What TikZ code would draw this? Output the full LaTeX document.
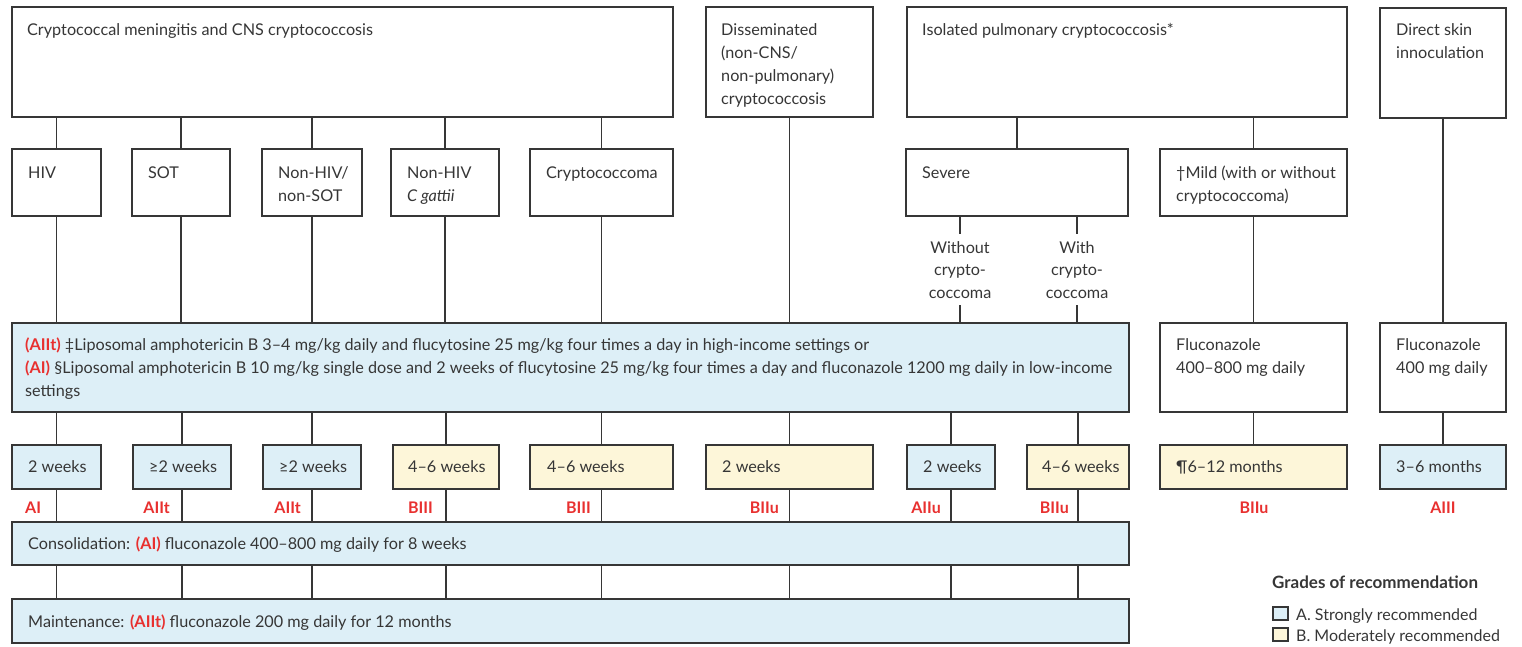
\documentclass[tikz,border=0pt]{standalone}
\usepackage{fontspec}
\setmainfont{Lato}
\usetikzlibrary{calc}
\definecolor{ln}{HTML}{363636}
\definecolor{bl}{HTML}{DDEFF7}
\definecolor{yl}{HTML}{FDF6D9}
\definecolor{rd}{HTML}{E8302F}
\tikzset{
  box/.style={draw=ln, line width=1.3pt, inner sep=0pt, outer sep=0pt},
  lbl/.style={text=ln, font=\fontsize{16.2}{23}\selectfont, inner sep=0pt, anchor=base west, align=left},
  grade/.style={text=rd, font=\fontsize{16}{18}\selectfont\bfseries, inner sep=0pt, anchor=base east},
  conn/.style={draw=ln, line width=1.3pt},
  sub/.style={text=ln, font=\fontsize{16.2}{22.5}\selectfont, inner xsep=0pt, inner ysep=7pt, anchor=base, align=center},
}
\newcommand\bx[6]{%
  \node[box,fill=#6,minimum width={(#4-(#2))*1pt},minimum height={(#5-(#3))*1pt}] (#1) at ({(#2+#4)/2},{(#3+#5)/2}) {};}
\newcommand\red[1]{{\color{rd}\bfseries #1}}
\begin{document}
\begin{tikzpicture}[x=1pt,y=-1pt]
\useasboundingbox (0,0) rectangle (1522,646);
% top row
\bx{cns}{12}{7}{673}{117}{white}
\bx{dis}{706}{7}{873}{117}{white}
\bx{iso}{907}{7}{1347}{117}{white}
\bx{dsk}{1380}{8}{1506}{118}{white}
% multi-line labels are anchored at the baseline of their last line
\node[lbl] (cns-t) at (27,35) {Cryptococcal meningitis and CNS cryptococcosis};
\node[lbl] (dis-t) at (721,104) {Disseminated\\(non-CNS/\\non-pulmonary)\\cryptococcosis};
\node[lbl] (iso-t) at (922,35) {Isolated pulmonary cryptococcosis*};
\node[lbl] (dsk-t) at (1396,58) {Direct skin\\innoculation};
% second row
\bx{hiv}{12}{149}{101}{216}{white}
\bx{sot}{132}{149}{230}{216}{white}
\bx{nhs}{262}{149}{362}{216}{white}
\bx{ncg}{391}{149}{499}{216}{white}
\bx{cma}{530}{149}{673}{216}{white}
\bx{sev}{906}{149}{1128}{216}{white}
\bx{mld}{1160}{149}{1347}{216}{white}
\node[lbl] (hiv-t) at (28,178) {HIV};
\node[lbl] (sot-t) at (148,178) {SOT};
\node[lbl] (nhs-t) at (278,201) {Non-HIV/\\non-SOT};
\node[lbl] (ncg-t) at (407,201) {Non-HIV\\\textit{C gattii}};
\node[lbl] (cma-t) at (546,178) {Cryptococcoma};
\node[lbl] (sev-t) at (922,178) {Severe};
\node[lbl] (mld-t) at (1176,201) {†Mild (with or without\\cryptococcoma)};
% severe split
\node[sub] (wo) at (960,298) {Without\\crypto-\\coccoma};
\node[sub] (wi) at (1077,298) {With\\crypto-\\coccoma};
% induction row
\bx{ind}{12}{323}{1129}{412}{bl}
\bx{fl1}{1160}{323}{1347}{412}{white}
\bx{fl2}{1380}{323}{1506}{412}{white}
\node[lbl] (ind-t) at (25,396) {\red{(AIIt)} ‡Liposomal amphotericin B 3–4 mg/kg daily and flucytosine 25 mg/kg four times a day in high-income settings or\\\red{(AI)} §Liposomal amphotericin B 10 mg/kg single dose and 2 weeks of flucytosine 25 mg/kg four times a day and fluconazole 1200 mg daily in low-income\\settings};
\node[lbl] (fl1-t) at (1176,373) {Fluconazole\\400–800 mg daily};
\node[lbl] (fl2-t) at (1396,373) {Fluconazole\\400 mg daily};
% duration row
\bx{d1}{12}{445}{101}{489}{bl}
\bx{d2}{133}{445}{231}{489}{bl}
\bx{d3}{263}{445}{361}{489}{bl}
\bx{d4}{393}{445}{499}{489}{yl}
\bx{d5}{530}{445}{673}{489}{yl}
\bx{d6}{706}{445}{873}{489}{yl}
\bx{d7}{907}{445}{995}{489}{bl}
\bx{d8}{1027}{445}{1129}{489}{yl}
\bx{d9}{1160}{445}{1347}{489}{yl}
\bx{d10}{1380}{445}{1506}{489}{bl}
\node[lbl] (d1-t) at (28,472) {2 weeks};
\node[lbl] (d2-t) at (149,472) {≥2 weeks};
\node[lbl] (d3-t) at (279,472) {≥2 weeks};
\node[lbl] (d4-t) at (408,472) {4–6 weeks};
\node[lbl] (d5-t) at (547,472) {4–6 weeks};
\node[lbl] (d6-t) at (722,472) {2 weeks};
\node[lbl] (d7-t) at (923,472) {2 weeks};
\node[lbl] (d8-t) at (1042,472) {4–6 weeks};
\node[lbl] (d9-t) at (1176,472) {¶6–12 months};
\node[lbl] (d10-t) at (1396,472) {3–6 months};
% grades
\node[grade,anchor=base west] (g1) at (25,513) {AI};
\node[grade] (g2) at (170,513) {AIIt};
\node[grade] (g3) at (301,513) {AIIt};
\node[grade] (g4) at (433,513) {BIII};
\node[grade] (g5) at (591,513) {BIII};
\node[grade] (g6) at (779,513) {BIIu};
\node[grade] (g7) at (941,513) {AIIu};
\node[grade] (g8) at (1069,513) {BIIu};
\node[grade,anchor=base] (g9) at (1254,513) {BIIu};
\node[grade,anchor=base] (g10) at (1443,513) {AIII};
% consolidation / maintenance
\bx{con}{12}{522}{1129}{565}{bl}
\bx{mnt}{12}{599}{1129}{643}{bl}
\node[lbl] (con-t) at (28,549) {Consolidation: \red{(AI)} fluconazole 400–800 mg daily for 8 weeks};
\node[lbl] (mnt-t) at (28,627) {Maintenance: \red{(AIIt)} fluconazole 200 mg daily for 12 months};
% legend
\node[lbl,font=\fontsize{17}{20}\selectfont\bfseries] (lg-t) at (1272,588) {Grades of recommendation};
\bx{lga}{1273}{607}{1288}{620}{bl}
\bx{lgb}{1273}{628}{1288}{641}{yl}
\node[lbl,font=\fontsize{16}{20}\selectfont] (lga-t) at (1296,620) {A. Strongly recommended};
\node[lbl,font=\fontsize{16}{20}\selectfont] (lgb-t) at (1296,641) {B. Moderately recommended};
% connectors: top to second row
\foreach \b in {hiv,sot,nhs,ncg,cma} \draw[conn] (\b.north) -- (\b.north |- cns.south);
\draw[conn] (sev.north) -- (sev.north |- iso.south);
\draw[conn] (mld.north) -- (mld.north |- iso.south);
% second row to induction
\foreach \b in {hiv,sot,nhs,ncg,cma} \draw[conn] (\b.south) -- (\b.south |- ind.north);
\draw[conn] (dis.south) -- (dis.south |- ind.north);
\draw[conn] (wo.north |- sev.south) -- (wo.north);
\draw[conn] (wi.north |- sev.south) -- (wi.north);
\draw[conn] (wo.south) -- (wo.south |- ind.north);
\draw[conn] (wi.south) -- (wi.south |- ind.north);
\draw[conn] (mld.south) -- (fl1.north);
\draw[conn] (dsk.south -| fl2.north) -- (fl2.north);
% induction to durations
\foreach \b in {d1,d2,d3,d4,d5,d6,d7,d8} \draw[conn] (\b.north) -- (\b.north |- ind.south);
\draw[conn] (fl1.south) -- (d9.north);
\draw[conn] (fl2.south) -- (d10.north);
% durations to consolidation, consolidation to maintenance
\foreach \b in {d1,d2,d3,d4,d5,d6,d7,d8} {
  \draw[conn] (\b.south) -- (\b.south |- con.north);
  \draw[conn] (\b.south |- con.south) -- (\b.south |- mnt.north);
}
\end{tikzpicture}
\end{document}
